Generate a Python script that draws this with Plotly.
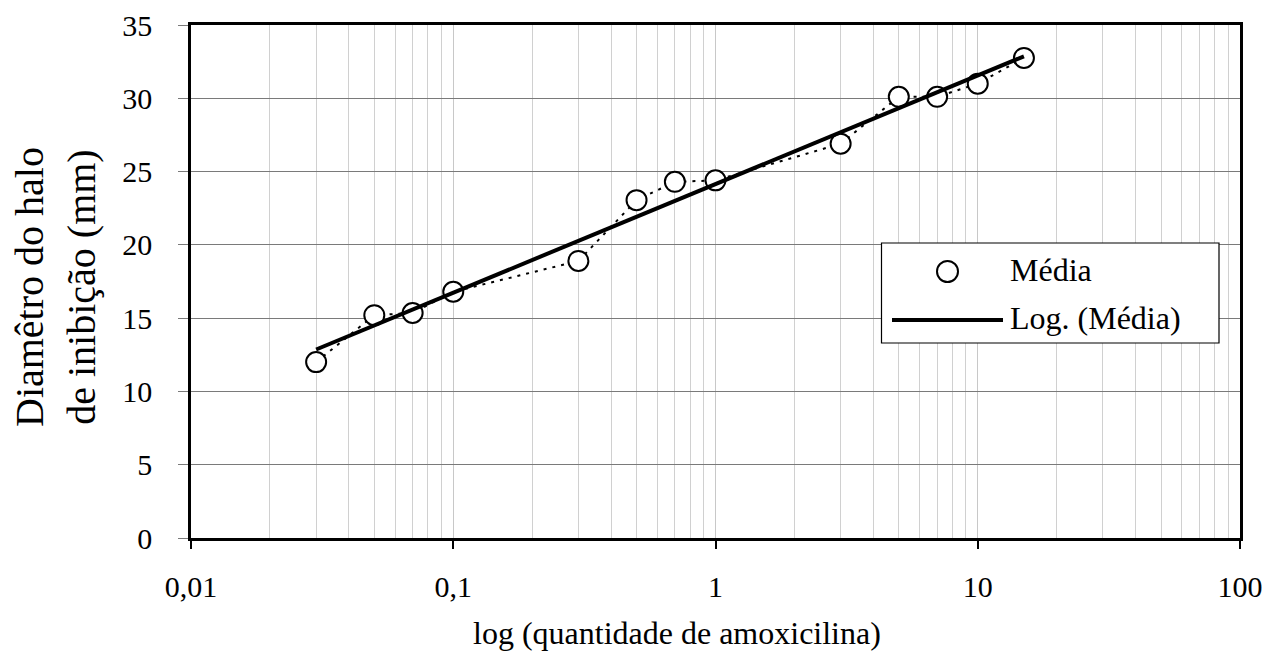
import numpy as np
import plotly.graph_objects as go

# ---- data ----
quantidade = [0.03, 0.05, 0.07, 0.1, 0.3, 0.5, 0.7, 1, 3, 5, 7, 10, 15]
media = [12.0, 15.2, 15.35, 16.8, 18.9, 23.05, 24.3, 24.4, 26.9, 30.1, 30.1, 31.0, 32.75]
x_tickvals = [0.01, 0.1, 1, 10, 100]
x_ticktext = ["0,01", "0,1", "1", "10", "100"]
y_tickvals = [0, 5, 10, 15, 20, 25, 30, 35]

# logarithmic trendline (least squares on ln x, as a spreadsheet trendline)
b, a = np.polyfit(np.log(quantidade), media, 1)
xt = np.logspace(np.log10(min(quantidade)), np.log10(max(quantidade)), 200)
yt = a + b * np.log(xt)

FONT = "Liberation Serif"

fig = go.Figure()
fig.add_trace(go.Scatter(x=quantidade, y=media, mode="lines",
                         line=dict(color="black", width=2, dash="3px,6px"),
                         showlegend=False, hoverinfo="skip"))
fig.add_trace(go.Scatter(x=quantidade, y=media, mode="markers", name="Média",
                         marker=dict(symbol="circle", size=20, color="white",
                                     line=dict(color="black", width=2)),
                         showlegend=False))
fig.add_trace(go.Scatter(x=xt, y=yt, mode="lines", name="Log. (Média)",
                         line=dict(color="black", width=4), showlegend=False))

L, R, T, B = 191, 23, 25, 113
W, H = 1263, 651
pw, ph = W - L - R, H - T - B

def px(x):
    return (x - L) / pw

def py(y):
    return (H - B - y) / ph

fig.update_layout(
    width=W, height=H,
    margin=dict(l=L, r=R, t=T, b=B, autoexpand=False),
    paper_bgcolor="white", plot_bgcolor="white",
    font=dict(family=FONT, color="black"),
    xaxis=dict(type="log", range=[-2, 2], tickvals=x_tickvals, ticktext=x_ticktext,
               showgrid=True, gridcolor="#c8c8c8", gridwidth=1,
               minor=dict(dtick="D1", showgrid=True, gridcolor="#d0d0d0", gridwidth=1, ticks=""),
               ticks="outside", ticklen=8, tickwidth=1.5, tickcolor="black",
               tickfont=dict(size=30, family=FONT), ticklabelstandoff=12,
               showline=True, linecolor="black", linewidth=2.5, mirror=True,
               zeroline=False, automargin=False),
    yaxis=dict(range=[0, 35], tickvals=y_tickvals,
               showgrid=True, gridcolor="#7a7a7a", gridwidth=1.2,
               ticks="outside", ticklen=10, tickwidth=1.2, tickcolor="#7a7a7a",
               tickfont=dict(size=30, family=FONT), ticklabelstandoff=20,
               showline=True, linecolor="black", linewidth=2.5, mirror=True,
               zeroline=False, automargin=False),
    showlegend=False,
)

# axis titles
fig.add_annotation(text="Diamêtro do halo<br>de inibição (mm)", textangle=-90,
                   xref="paper", yref="paper", x=px(55), y=py(287),
                   xanchor="center", yanchor="middle", showarrow=False,
                   font=dict(size=40, family=FONT))
fig.add_annotation(text="log (quantidade de amoxicilina)",
                   xref="paper", yref="paper", x=px(677), y=py(633),
                   xanchor="center", yanchor="middle", showarrow=False,
                   font=dict(size=32, family=FONT))

# legend box
fig.add_shape(type="rect", xref="paper", yref="paper",
              x0=px(881.5), x1=px(1219), y0=py(343), y1=py(243),
              line=dict(color="black", width=1.2), fillcolor="white", layer="above")
fig.add_shape(type="circle", xref="paper", yref="paper",
              xsizemode="pixel", ysizemode="pixel",
              xanchor=px(947.5), yanchor=py(271.5), x0=-10.5, x1=10.5, y0=-10.5, y1=10.5,
              line=dict(color="black", width=2), fillcolor="white", layer="above")
fig.add_shape(type="line", xref="paper", yref="paper",
              x0=px(892), x1=px(1003), y0=py(320), y1=py(320),
              line=dict(color="black", width=4), layer="above")
fig.add_annotation(text="Média", xref="paper", yref="paper", x=px(1008), y=py(270),
                   xanchor="left", yanchor="middle", showarrow=False,
                   font=dict(size=32, family=FONT))
fig.add_annotation(text="Log. (Média)", xref="paper", yref="paper", x=px(1008), y=py(318),
                   xanchor="left", yanchor="middle", showarrow=False,
                   font=dict(size=32, family=FONT))

fig.write_html("out.html")
